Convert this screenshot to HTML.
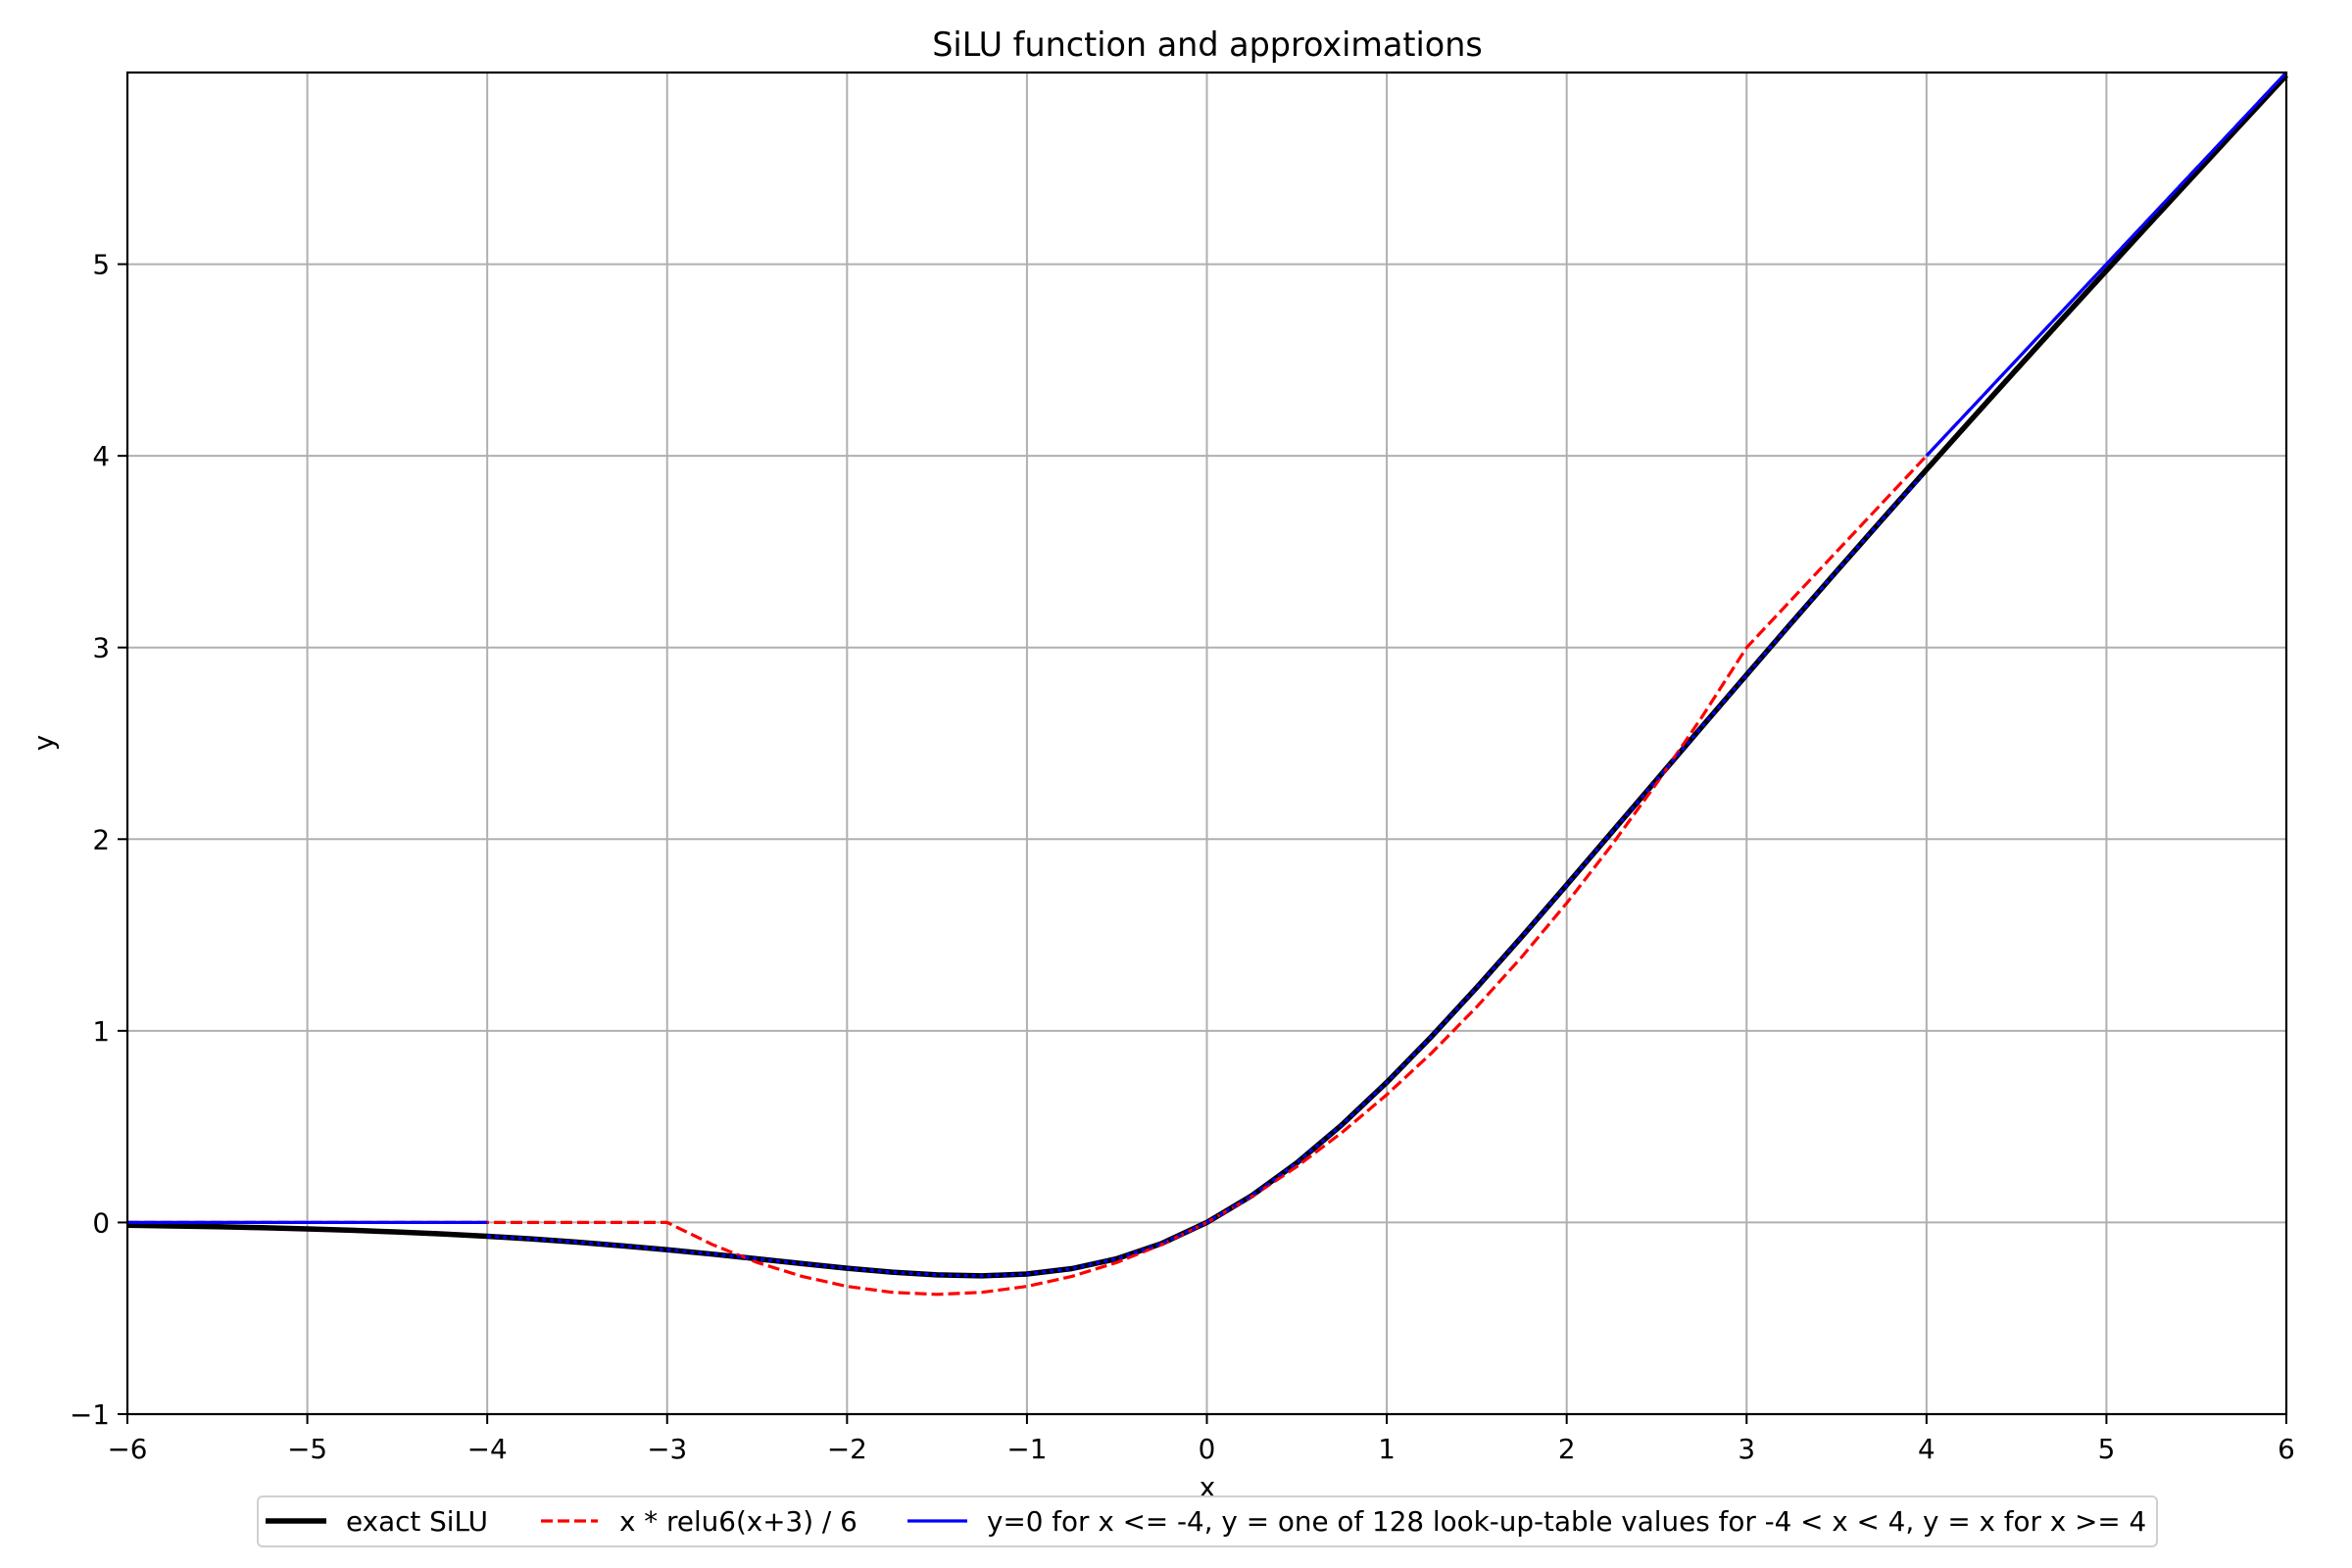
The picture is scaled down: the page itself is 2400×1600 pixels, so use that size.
<!DOCTYPE html>
<html><head><meta charset="utf-8"><style>
html,body{margin:0;padding:0;background:#fff;}
svg{display:block;font-family:"DejaVu Sans","Liberation Sans",sans-serif;}
</style></head><body>
<svg id="chart" width="2400" height="1600" viewBox="0 0 2400 1600">
<rect x="0" y="0" width="2400" height="1600" fill="#fff"/>
<g id="grid"></g>
<g id="series"></g>
<rect x="130" y="74" width="2203" height="1369" fill="none" stroke="#000" stroke-width="2.2"/>
<g id="ticks"></g>
<text x="1232" y="57" text-anchor="middle" font-size="33.4">SiLU function and approximations</text>
<text x="1232" y="1527" text-anchor="middle" font-size="27.8">x</text>
<text x="54" y="758" text-anchor="middle" font-size="27.8" transform="rotate(-90 54 758)">y</text>
<g>
<rect x="263" y="1527" width="1938" height="51" rx="5" fill="#fff" stroke="#d0d0d0" stroke-width="2"/>
<line x1="271" y1="1552" x2="333" y2="1552" stroke="#000" stroke-width="5.5"/>
<text x="353" y="1562" font-size="27.8">exact SiLU</text>
<line x1="552" y1="1552" x2="610" y2="1552" stroke="#f00" stroke-width="3.2" stroke-dasharray="12,5"/>
<text x="632" y="1562" font-size="27.8">x * relu6(x+3) / 6</text>
<line x1="926" y1="1552" x2="987" y2="1552" stroke="#00f" stroke-width="3.2"/>
<text x="1007" y="1562" font-size="27.8">y=0 for x &lt;= -4, y = one of 128 look-up-table values for -4 &lt; x &lt; 4, y = x for x &gt;= 4</text>
</g>
</svg>
<script>
const xTicks=[-6,-5,-4,-3,-2,-1,0,1,2,3,4,5,6];
const xTickLabels=["\u22126","\u22125","\u22124","\u22123","\u22122","\u22121","0","1","2","3","4","5","6"];
const yTicks=[-1,0,1,2,3,4,5];
const yTickLabels=["\u22121","0","1","2","3","4","5"];
const siluX=[-6,-5.75,-5.5,-5.25,-5,-4.75,-4.5,-4.25,-4,-3.75,-3.5,-3.25,-3,-2.75,-2.5,-2.25,-2,-1.75,-1.5,-1.25,-1,-0.75,-0.5,-0.25,0,0.25,0.5,0.75,1,1.25,1.5,1.75,2,2.25,2.5,2.75,3,3.25,3.5,3.75,4,4.25,4.5,4.75,5,5.25,5.5,5.75,6];
const siluY=[-0.0148,-0.0182,-0.0224,-0.0274,-0.0335,-0.0407,-0.0494,-0.0598,-0.0719,-0.0862,-0.1026,-0.1213,-0.1423,-0.1652,-0.1897,-0.2145,-0.2384,-0.2591,-0.2736,-0.2784,-0.2689,-0.2406,-0.1888,-0.1095,0,0.1405,0.3112,0.5094,0.7311,0.9716,1.2264,1.4909,1.7616,2.0355,2.3103,2.5848,2.8577,3.1287,3.3974,3.6638,3.9281,4.1902,4.4506,4.7093,4.9665,5.2226,5.4776,5.7318,5.9852];
const hsX=[-6,-3,-2.75,-2.5,-2.25,-2,-1.75,-1.5,-1.25,-1,-0.75,-0.5,-0.25,0,0.25,0.5,0.75,1,1.25,1.5,1.75,2,2.25,2.5,2.75,3,4,6];
const hsY=[0,0,-0.1146,-0.2083,-0.2813,-0.3333,-0.3646,-0.375,-0.3646,-0.3333,-0.2813,-0.2083,-0.1146,0,0.1354,0.2917,0.4688,0.6667,0.8854,1.125,1.3854,1.6667,1.9688,2.2917,2.6354,3,4,6];
const lowX=[-6,-4];
const lowY=[0,0];
const lutX=[-4,-3.75,-3.5,-3.25,-3,-2.75,-2.5,-2.25,-2,-1.75,-1.5,-1.25,-1,-0.75,-0.5,-0.25,0,0.25,0.5,0.75,1,1.25,1.5,1.75,2,2.25,2.5,2.75,3,3.25,3.5,3.75,3.97];
const lutY=[-0.0719,-0.0862,-0.1026,-0.1213,-0.1423,-0.1652,-0.1897,-0.2145,-0.2384,-0.2591,-0.2736,-0.2784,-0.2689,-0.2406,-0.1888,-0.1095,0,0.1405,0.3112,0.5094,0.7311,0.9716,1.2264,1.4909,1.7616,2.0355,2.3103,2.5848,2.8577,3.1287,3.3974,3.6638,3.89];
const highX=[4,6];
const highY=[4,6];

const L=130,R=2333,T=74,B=1443,XMIN=-6,XMAX=6,YMIN=-1,YMAX=6;
function sx(v){return L+(v-XMIN)/(XMAX-XMIN)*(R-L);}
function sy(v){return B-(v-YMIN)/(YMAX-YMIN)*(B-T);}
const NS="http://www.w3.org/2000/svg";
const grid=document.getElementById('grid'),ticks=document.getElementById('ticks'),series=document.getElementById('series');
function mk(tag,attrs,parent){const e=document.createElementNS(NS,tag);for(const k in attrs)e.setAttribute(k,attrs[k]);parent.appendChild(e);return e;}
xTicks.forEach((v,i)=>{
  const g=mk('line',{x1:sx(v),x2:sx(v),y1:T,y2:B,stroke:'#b0b0b0','stroke-width':2},grid);
  
  
  const t=mk('line',{x1:sx(v),x2:sx(v),y1:B,y2:B+10,stroke:'#000','stroke-width':2},ticks);
  
  
  const l=mk('text',{x:sx(v),y:B+45,'text-anchor':'middle','font-size':27.8},ticks);
  l.textContent=xTickLabels[i];
  
  
});
yTicks.forEach((v,i)=>{
  const g=mk('line',{x1:L,x2:R,y1:sy(v),y2:sy(v),stroke:'#b0b0b0','stroke-width':2},grid);
  
  
  const t=mk('line',{x1:L-10,x2:L,y1:sy(v),y2:sy(v),stroke:'#000','stroke-width':2},ticks);
  
  
  const l=mk('text',{x:L-18,y:sy(v)+10,'text-anchor':'end','font-size':27.8},ticks);
  l.textContent=yTickLabels[i];
  
  
});
function pts(xs,ys){return xs.map((x,i)=>sx(x).toFixed(1)+','+sy(ys[i]).toFixed(1)).join(' ');}
const p1=mk('polyline',{points:pts(siluX,siluY),fill:'none',stroke:'#000','stroke-width':5.5,'stroke-linejoin':'round'},series);


const p2=mk('polyline',{points:pts(hsX,hsY),fill:'none',stroke:'#f00','stroke-width':3.2,'stroke-dasharray':'12,5'},series);


const p3=mk('polyline',{points:pts(lowX,lowY),fill:'none',stroke:'#00f','stroke-width':3.2},series);


const p4=mk('polyline',{points:pts(lutX,lutY),fill:'none',stroke:'#00f','stroke-width':3.2,'stroke-dasharray':'4,4'},series);


const p5=mk('polyline',{points:pts(highX,highY),fill:'none',stroke:'#00f','stroke-width':3.2},series);


</script>
</body></html>
